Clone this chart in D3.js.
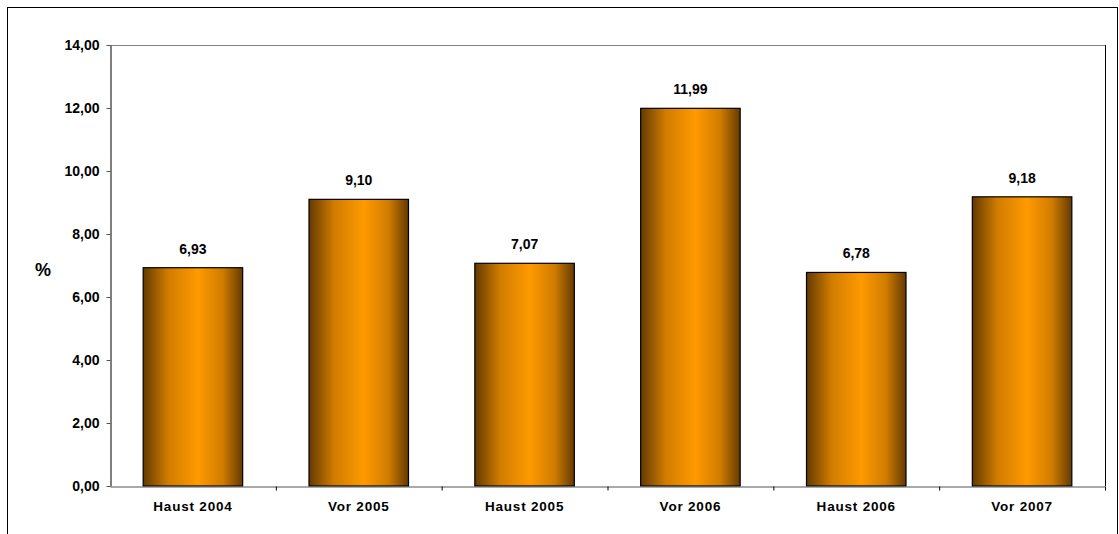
<!DOCTYPE html>
<html>
<head>
<meta charset="utf-8">
<script src="https://cdn.jsdelivr.net/npm/d3@7"></script>
<style>
body{margin:0;background:#fff;}
text{font-family:"Liberation Sans",Arial,sans-serif;font-weight:bold;fill:#000;}
</style>
</head>
<body>
<div id="chart"></div>
<script>
let categories=["Haust 2004","Vor 2005","Haust 2005","Vor 2006","Haust 2006","Vor 2007"];
let values=[6.93,9.10,7.07,11.99,6.78,9.18];
let yTicks=[0,2,4,6,8,10,12,14];

let width=1119, height=534;
let plotLeft=110, plotRight=1105, plotTop=45, plotBottom=486;

let fmt=function(v){ return v.toFixed(2).replace(".",","); };

let svg=d3.select("#chart").append("svg")
.attr("width",width).attr("height",height);

// outer frame
svg.append("rect")
.attr("x",7.5).attr("y",7.5).attr("width",1110).attr("height",540)
.attr("fill","#fff").attr("stroke","#000").attr("stroke-width",1);

let grad=svg.append("defs").append("linearGradient")
.attr("id","barGrad").attr("x1","0%").attr("x2","100%").attr("y1","0%").attr("y2","0%");
grad.append("stop").attr("offset","0%").attr("stop-color","#643a00");
grad.append("stop").attr("offset","25%").attr("stop-color","#d07c00");
grad.append("stop").attr("offset","55%").attr("stop-color","#ff9a00");
grad.append("stop").attr("offset","80%").attr("stop-color","#d07c00");
grad.append("stop").attr("offset","100%").attr("stop-color","#643a00");

let xscale=d3.scaleBand().domain(categories).range([plotLeft,plotRight]).paddingInner(0.4).paddingOuter(0.2);
let xcat=d3.scaleBand().domain(categories).range([plotLeft,plotRight]);
let yscale=d3.scaleLinear().domain([0,14]).range([plotBottom,plotTop]);

// plot area border (top + right)
svg.append("line")
.attr("x1",plotLeft).attr("x2",plotRight).attr("y1",plotTop+0.5).attr("y2",plotTop+0.5)
.attr("stroke","#808080");
svg.append("line")
.attr("x1",plotRight+0.5).attr("x2",plotRight+0.5).attr("y1",plotTop).attr("y2",plotBottom)
.attr("stroke","#000");

// bars
svg.selectAll("rect.bar")
.data(values)
.enter()
.append("rect")
.attr("class","bar")
.attr("x",function(d,i){ return xscale(categories[i]); })
.attr("width",xscale.bandwidth())
.attr("y",function(d){ return yscale(d); })
.attr("height",function(d){ return plotBottom-yscale(d); })
.attr("fill","url(#barGrad)")
.attr("stroke","#000").attr("stroke-width",1.2);

// value labels
svg.selectAll("text.val")
.data(values)
.enter()
.append("text")
.attr("class","val")
.attr("x",function(d,i){ return xscale(categories[i])+xscale.bandwidth()/2; })
.attr("y",function(d){ return yscale(d)-14; })
.attr("text-anchor","middle")
.attr("font-size","14px")
.text(function(d){ return fmt(d); });

// y axis
let yAxis=d3.axisLeft(yscale).tickValues(yTicks).tickSizeInner(4).tickSizeOuter(0).tickPadding(7)
.tickFormat(fmt);
let gy=svg.append("g").attr("transform","translate("+(plotLeft+0.5)+",0)").call(yAxis);
gy.select(".domain").attr("stroke","#555").attr("stroke-width",1.5);
gy.selectAll(".tick line").attr("stroke","#555");
gy.selectAll("text").attr("font-size","14px").attr("font-family","Liberation Sans, Arial, sans-serif").attr("font-weight","bold");

// x axis
let xAxis=d3.axisBottom(xcat).tickSize(0).tickPadding(15);
let gx=svg.append("g").attr("transform","translate(0,"+(plotBottom+0.5)+")").call(xAxis);
gx.select(".domain").attr("stroke","#555").attr("stroke-width",1.2);
gx.selectAll("text").attr("font-size","13.5px").attr("letter-spacing","0.8px")
.attr("font-family","Liberation Sans, Arial, sans-serif").attr("font-weight","bold");
gx.selectAll("line.sep")
.data(categories)
.enter()
.append("line")
.attr("class","sep")
.attr("x1",function(d){ return xcat(d)+xcat.bandwidth()+0.5; })
.attr("x2",function(d){ return xcat(d)+xcat.bandwidth()+0.5; })
.attr("y1",0).attr("y2",4)
.attr("stroke","#000");

// y label
svg.append("text").text("%")
.attr("x",43).attr("y",276).attr("text-anchor","middle").attr("font-size","18px");
</script>
</body>
</html>
